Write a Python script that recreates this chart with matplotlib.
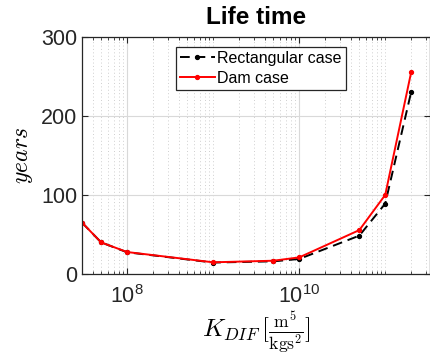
import math
import matplotlib
matplotlib.use("Agg")
import matplotlib.pyplot as plt
from matplotlib.ticker import LogLocator, FixedLocator, FuncFormatter, NullFormatter

plt.rcParams['font.family'] = ['Liberation Sans', 'DejaVu Sans']
plt.rcParams['mathtext.fontset'] = 'cm'

# K_DIF values and life time in years
k_dif = [3e7, 5e7, 1e8, 1e9, 5e9, 1e10, 5e10, 1e11, 2e11]
rect_years = [65, 40, 27.5, 14.5, 16, 19, 48.5, 89, 230]
dam_years = [65, 40, 27.8, 14.8, 16.8, 21, 55.5, 100, 255]
y_ticks = [0, 100, 200, 300]
x_major = [1e8, 1e10]

fig = plt.figure(figsize=(4.30, 3.58), dpi=100)
ax = fig.add_axes([0.1907, 0.2346, 0.809, 0.663])

ax.plot(k_dif, rect_years, color='black', linestyle=(0, (5, 3)), linewidth=1.4,
        marker='o', markersize=2.8, label='Rectangular case')
ax.plot(k_dif, dam_years, color='red', linestyle='-', linewidth=1.4,
        marker='o', markersize=2.8, label='Dam case')

ax.set_xscale('log')
ax.set_xlim(3e7, 3.3e11)
ax.set_ylim(0, 300)

ax.xaxis.set_major_locator(FixedLocator(x_major))
ax.xaxis.set_minor_locator(LogLocator(base=10, subs=range(1, 10), numticks=50))
ax.xaxis.set_major_formatter(FuncFormatter(
    lambda v, p: r'$\mathregular{10^{%d}}$' % round(math.log10(v))))
ax.xaxis.set_minor_formatter(NullFormatter())
ax.set_yticks(y_ticks)

ax.grid(True, which='major', color='#d9d9d9', linewidth=0.8, linestyle='-')
ax.grid(True, which='minor', axis='x', color='#cfcfcf', linewidth=0.7,
        linestyle=(0, (1, 2.5)))
ax.set_axisbelow(True)

edge = '#262626'
for s in ax.spines.values():
    s.set_color(edge)
    s.set_linewidth(0.9)
ax.tick_params(which='both', direction='in', top=True, right=True, colors=edge,
               labelsize=15.5, labelcolor=edge)
ax.tick_params(which='major', length=4)
ax.tick_params(which='minor', length=2.2)
ax.tick_params(axis='x', pad=8)

ax.set_title('Life time', fontsize=17.5, fontweight='bold', pad=9)
ax.set_ylabel(r'$years$', fontsize=17, labelpad=4)
ax.set_xlabel(r'$K_{DIF}\,[\frac{\mathrm{m}^5}{\mathrm{kgs}^2}]$', fontsize=18, labelpad=1)

leg = ax.legend(loc='upper left', bbox_to_anchor=(0.27, 0.957), borderaxespad=0,
                fontsize=11.5, fancybox=False, framealpha=1, edgecolor=edge,
                handlelength=2.2, handletextpad=0.15, borderpad=0.25,
                labelspacing=0.3)
leg.get_frame().set_linewidth(0.9)

fig.savefig('out.png', dpi=100)
